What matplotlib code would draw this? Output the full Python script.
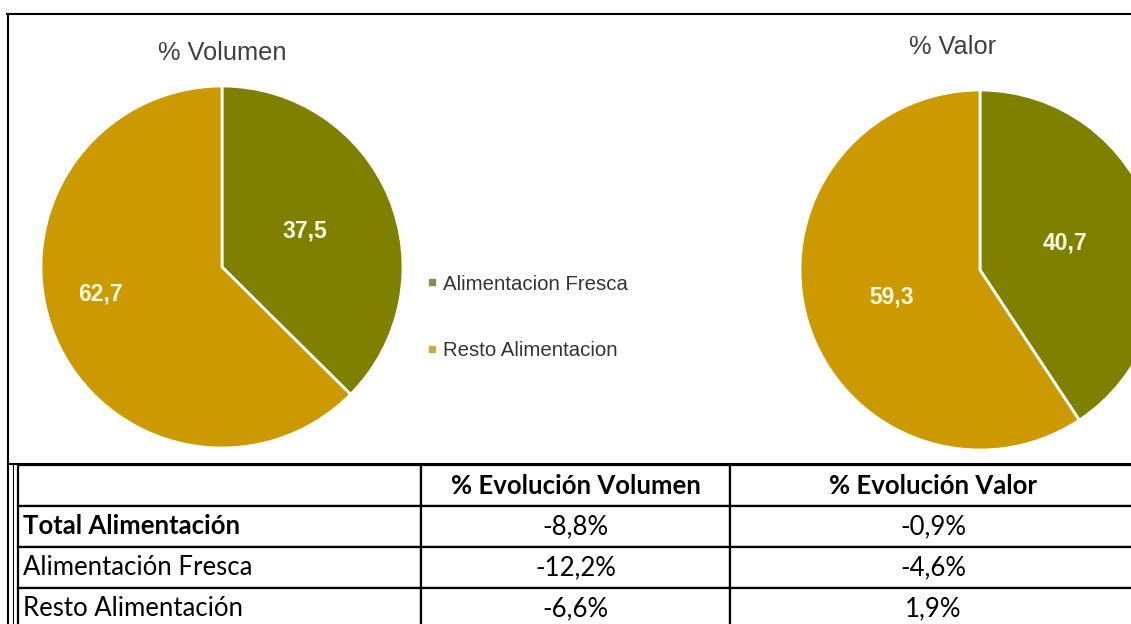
import matplotlib
matplotlib.use('Agg')
import matplotlib.pyplot as plt
from matplotlib.lines import Line2D

# datos de las tartas
categorias = ['Alimentacion Fresca', 'Resto Alimentacion']
volumen_pct = [37.5, 62.7]
valor_pct = [40.7, 59.3]
colores = ['#808000', '#CC9A00']
colores_leyenda = ['#8C8C50', '#C8AA55']

# datos de la tabla
filas_tabla = ['Total Alimentación', 'Alimentación Fresca', 'Resto Alimentación']
columnas_tabla = ['% Evolución Volumen', '% Evolución Valor']
evol_volumen = [-8.8, -12.2, -6.6]
evol_valor = [-0.9, -4.6, 1.9]

W, H = 1131, 624


def fmt(v, pct=False):
    s = f"{v:.1f}".replace('.', ',')
    return s + '%' if pct else s


fig = plt.figure(figsize=(W / 100, H / 100), dpi=100)
fig.patch.set_facecolor('white')

# ejes base en pixeles para marcos y tabla
base = fig.add_axes([0, 0, 1, 1])
base.set_xlim(0, W)
base.set_ylim(H, 0)
base.axis('off')

lw = 1.5
base.plot([7, W], [14, 14], color='black', lw=lw)
base.plot([8, 8], [14, H], color='black', lw=lw)
base.plot([8, W], [464, 464], color='black', lw=lw)
base.plot([12.5, 12.5], [464, H], color='black', lw=0.8)


def tarta(cx, cy, r, valores, titulo, titulo_pos, pos_etiquetas):
    ax = fig.add_axes([(cx - 1.1 * r) / W, 1 - (cy + 1.1 * r) / H,
                       2.2 * r / W, 2.2 * r / H])
    ax.pie(valores, colors=colores, startangle=90, counterclock=False,
           wedgeprops=dict(edgecolor='white', linewidth=2))
    ax.set_xlim(-1.1, 1.1)
    ax.set_ylim(-1.1, 1.1)
    ax.text(titulo_pos[0], titulo_pos[1], titulo, ha='center', va='center',
            fontsize=18.3, color='#404040', family='Liberation Sans')
    for v, (x, y) in zip(valores, pos_etiquetas):
        ax.text(x, y, fmt(v), ha='center', va='center', fontsize=16.5,
                fontweight='bold', color='#FFFBE0', family='Liberation Sans')
    return ax


tarta(222, 267, 181, volumen_pct, '% Volumen', (0, 1.18),
      [(0.46, 0.20), (-0.67, -0.15)])
tarta(980, 270, 180, valor_pct, '% Valor', (-0.15, 1.24),
      [(0.47, 0.15), (-0.49, -0.15)])

# leyenda
handles = [Line2D([], [], marker='s', linestyle='', markersize=4, color=c)
           for c in colores_leyenda]
fig.legend(handles, categorias, loc='center left', bbox_to_anchor=(427, 317.5),
           bbox_transform=base.transData, frameon=False, labelspacing=2.35,
           handlelength=0.5, handletextpad=0.3, borderaxespad=0, borderpad=0,
           prop=dict(family='Liberation Sans', size=14.7), labelcolor='#333333')

# tabla
celdas = [[''] + columnas_tabla]
for fila, a, b in zip(filas_tabla, evol_volumen, evol_valor):
    celdas.append([fila, fmt(a, True), fmt(b, True)])

x0, x1, y0, y1 = 18, 1136, 465, 629
anchos = [421 - 18, 730 - 421, 1136 - 730]
tabla = base.table(cellText=celdas, cellLoc='center', colWidths=anchos,
                   bbox=[x0 / W, 1 - y1 / H, (x1 - x0) / W, (y1 - y0) / H])
tabla.auto_set_font_size(False)
tabla.set_fontsize(18.5)
for (i, j), cell in tabla.get_celld().items():
    cell.set_linewidth(1.6)
    cell.set_edgecolor('black')
    t = cell.get_text()
    t.set_fontfamily('Lato')
    if i == 0 or (i == 1 and j == 0):
        t.set_fontweight('bold')
    if j == 0:
        cell.PAD = 5 / anchos[0]
        t.set_ha('left')
        cell._loc = 'left'

fig.savefig('out.png', dpi=100)
